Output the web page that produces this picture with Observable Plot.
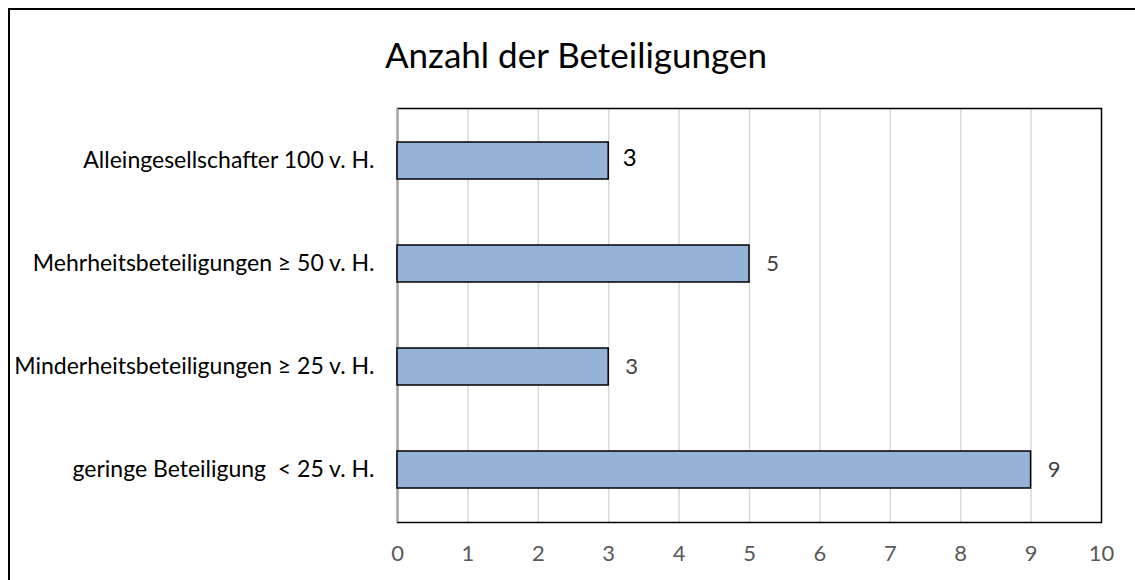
<!DOCTYPE html>
<html>
<head>
<meta charset="utf-8">
<script src="https://cdn.jsdelivr.net/npm/d3@7"></script>
<script src="https://cdn.jsdelivr.net/npm/@observablehq/plot@0.6"></script>
<style>
  html, body { margin: 0; padding: 0; background: #fff; overflow: hidden; }
  #wrap { position: relative; width: 1135px; height: 580px; overflow: hidden; font-family: Lato, "Open Sans", sans-serif; }
  #border { position: absolute; left: 8px; top: 8px; width: 1300px; height: 800px; border: 2px solid #000; box-sizing: border-box; }
  #title { position: absolute; left: 0; width: 1152px; top: 37px; text-align: center; font-size: 35px; color: #000; line-height: 1; }
  #chart { position: absolute; left: 0; top: 90px; }
</style>
</head>
<body>
<div id="wrap">
  <div id="border"></div>
  <div id="title">Anzahl der Beteiligungen</div>
  <div id="chart"></div>
</div>
<script>
const categories = [
  "Alleingesellschafter 100 v. H.",
  "Mehrheitsbeteiligungen ≥ 50 v. H.",
  "Minderheitsbeteiligungen ≥ 25 v. H.",
  "geringe Beteiligung  < 25 v. H."
];
const values = [3, 5, 3, 9];
const xTicks = [0, 1, 2, 3, 4, 5, 6, 7, 8, 9, 10];

const data = categories.map((c, i) => ({cat: c, value: values[i], first: i === 0}));

const plot = Plot.plot({
  width: 1135,
  height: 490,
  marginLeft: 397,
  marginRight: 34,
  marginTop: 18,
  marginBottom: 58,
  style: {fontFamily: "Lato, 'Open Sans', sans-serif", background: "transparent"},
  x: {domain: [0, 10], ticks: xTicks, label: null},
  y: {domain: categories, label: null, paddingInner: 0.64, paddingOuter: 0.32},
  marks: [
    Plot.ruleX(xTicks.filter(d => d > 0 && d < 10), {stroke: "#d9d9d9", strokeWidth: 1.5}),
    Plot.frame({stroke: "#000", strokeWidth: 1.5}),
    Plot.ruleX([0], {stroke: "#a6a6a6", strokeWidth: 1.5}),
    Plot.barX(data, {x: "value", y: "cat", fill: "#95b3d7", stroke: "#000", strokeWidth: 1.5}),
    Plot.text(data.filter(d => !d.first), {x: "value", y: "cat", text: d => String(d.value), dx: 23, textAnchor: "middle", fill: "#404040", fontSize: 22}),
    Plot.text(data.filter(d => d.first), {x: "value", y: "cat", text: d => String(d.value), dx: 21, dy: -3, textAnchor: "middle", fill: "#000", fontSize: 24}),
    Plot.axisX({ticks: xTicks, tickSize: 0, tickPadding: 23, fontSize: 22, color: "#595959", label: null, tickFormat: d => String(d)}),
    Plot.axisY({tickSize: 0, tickPadding: 23, fontSize: 23, color: "#000", label: null})
  ]
});
document.getElementById("chart").appendChild(plot);
</script>
</body>
</html>
